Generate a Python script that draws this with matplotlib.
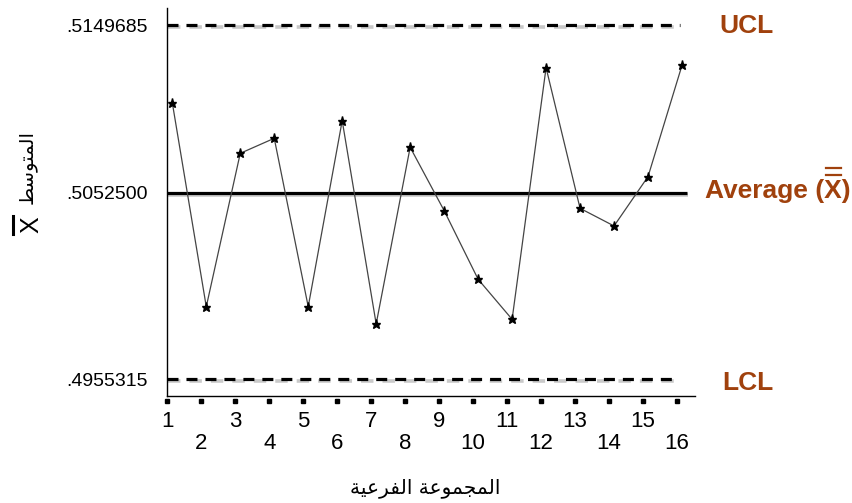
import numpy as np
import matplotlib
matplotlib.use("Agg")
import matplotlib.pyplot as plt
from matplotlib import transforms
from matplotlib.lines import Line2D
import matplotlib.patheffects as pe

# ---------------- data ----------------
subgroups = list(range(1, 17))
xbar = [0.51048, 0.49932, 0.50755, 0.50842, 0.49932, 0.50944, 0.49842, 0.50790,
        0.50433, 0.50075, 0.49866, 0.51251, 0.50445, 0.50353, 0.50620, 0.51265]
UCL = 0.5149685
CL = 0.5052500
LCL = 0.4955315
limit_values = [LCL, CL, UCL]
limit_labels = [f"{v:.7f}".lstrip("0") for v in limit_values]
xlabel_ar = "المجموعة الفرعية"
ylabel_ar = "المتوسط"

# ---------------- minimal Arabic shaping (matplotlib has no CTL) ----------------
FORMS = {
    'ا': ('\uFE8D', '\uFE8E', None, None),
    'ل': ('\uFEDD', '\uFEDE', '\uFEDF', '\uFEE0'),
    'م': ('\uFEE1', '\uFEE2', '\uFEE3', '\uFEE4'),
    'ج': ('\uFE9D', '\uFE9E', '\uFE9F', '\uFEA0'),
    'و': ('\uFEED', '\uFEEE', None, None),
    'ع': ('\uFEC9', '\uFECA', '\uFECB', '\uFECC'),
    'ة': ('\uFE93', '\uFE94', None, None),
    'ف': ('\uFED1', '\uFED2', '\uFED3', '\uFED4'),
    'ر': ('\uFEAD', '\uFEAE', None, None),
    'ي': ('\uFEF1', '\uFEF2', '\uFEF3', '\uFEF4'),
    'ت': ('\uFE95', '\uFE96', '\uFE97', '\uFE98'),
    'س': ('\uFEB1', '\uFEB2', '\uFEB3', '\uFEB4'),
    'ط': ('\uFEC1', '\uFEC2', '\uFEC3', '\uFEC4'),
}


def shape(s):
    out = []
    for i, c in enumerate(s):
        if c not in FORMS:
            out.append(c)
            continue
        f = FORMS[c]
        prev = s[i - 1] if i > 0 else None
        nxt = s[i + 1] if i + 1 < len(s) else None
        jp = prev in FORMS and FORMS[prev][2] is not None
        jn = nxt in FORMS and f[2] is not None
        if jp and jn:
            g = f[3]
        elif jp:
            g = f[1]
        elif jn:
            g = f[2]
        else:
            g = f[0]
        out.append(g)
    return ''.join(reversed(out))


# ---------------- figure ----------------
W, H = 853, 503
fig = plt.figure(figsize=(W / 100, H / 100), dpi=100)


def fx(px):
    return px / W


def fy(py):
    return 1 - py / H


ax_l, ax_r, ax_b, ax_t = 167.3, 695, 396, 8
ax = fig.add_axes([fx(ax_l), fy(ax_b), fx(ax_r - ax_l), (ax_b - ax_t) / H])

# piecewise-linear y scale (reference draws the two halves with different spacing)
K_UP = 167.7 / (UCL - CL)
K_DN = 186.3 / (CL - LCL)


def fwd(y):
    y = np.asarray(y, dtype=float)
    return np.where(y >= CL, (y - CL) * K_UP, (y - CL) * K_DN)


def inv(p):
    p = np.asarray(p, dtype=float)
    return np.where(p >= 0, CL + p / K_UP, CL + p / K_DN)


ax.set_yscale('function', functions=(fwd, inv))
ax.set_ylim(inv(-(ax_b - 193.0)), inv(193.0 - ax_t))
px_per_x = 34.0
ax.set_xlim(1 - (172 - ax_l) / px_per_x, 1 + (ax_r - 172) / px_per_x)

brown = '#A0410D'
ytrans = ax.get_yaxis_transform()
shadow_trans = transforms.offset_copy(ytrans, fig=fig, x=0.8, y=-2.0, units='dots')

# control lines (with soft drop shadow like the reference)
ends = {UCL: (680 - ax_l) / (ax_r - ax_l), LCL: (678 - ax_l) / (ax_r - ax_l),
        CL: (687 - ax_l) / (ax_r - ax_l)}
for val in (UCL, LCL, CL):
    dash_kw = {} if val == CL else dict(dashes=(3.44, 2.5))
    ax.plot([0, ends[val]], [val, val], transform=shadow_trans, color='#888888',
            alpha=0.45, lw=2.6, zorder=1.9, solid_capstyle='butt',
            dash_capstyle='butt', **dash_kw)
    ax.plot([0, ends[val]], [val, val], transform=ytrans, color='black', lw=2.3,
            zorder=2, solid_capstyle='butt', dash_capstyle='butt', **dash_kw)

# data
ax.plot(subgroups, xbar, color='#444444', lw=0.9, zorder=3)
ax.plot(subgroups, xbar, ls='none', marker='*', ms=6.5, color='black', zorder=4)

# spines
for s in ['top', 'right']:
    ax.spines[s].set_visible(False)
for s in ['left', 'bottom']:
    ax.spines[s].set_linewidth(1.0)

# y ticks
ax.set_yticks(limit_values)
ax.set_yticklabels(limit_labels, fontsize=14, family='Liberation Sans')
ax.yaxis.set_minor_locator(matplotlib.ticker.NullLocator())
ax.tick_params(axis='y', length=0, pad=14)

# x ticks (odd top row, even lower row); tick squares slightly left of points
tick_shift = -5.0 / px_per_x
odd = [g for g in subgroups if g % 2 == 1]
even = [g for g in subgroups if g % 2 == 0]
ax.set_xticks([g + tick_shift for g in odd])
ax.set_xticklabels([str(g) for g in odd], fontsize=16, family='Liberation Sans')
ax.set_xticks([g + tick_shift for g in even], minor=True)
ax.set_xticklabels([str(g) for g in even], minor=True, fontsize=16, family='Liberation Sans')
ax.tick_params(axis='x', which='major', length=0, pad=11)
ax.tick_params(axis='x', which='minor', length=0, pad=26.5)
blend = transforms.blended_transform_factory(ax.transData, ax.transAxes)
ax.plot([g + tick_shift for g in subgroups], [-(400.7 - ax_b) / (ax_b - ax_t)] * len(subgroups),
        ls='none', marker='s', ms=3.0, color='black', transform=blend, clip_on=False)

# right-hand labels
FS_LAB = 19
lab_kw = dict(xycoords=('figure fraction', 'data'), textcoords='offset pixels',
              color=brown, fontsize=FS_LAB, fontweight='bold', family='Liberation Sans',
              va='baseline', ha='left', annotation_clip=False)
ax.annotate('UCL', xy=(fx(719), UCL), xytext=(0, -7.7), **lab_kw)
ax.annotate('LCL', xy=(fx(722), LCL), xytext=(0, -10.7), **lab_kw)
t_avg = ax.annotate('Average (X)', xy=(fx(705), CL), xytext=(0, -5.0), **lab_kw)

# axis titles (Arabic)
fig.text(fx(425), fy(488), shape(xlabel_ar), fontsize=14.5, family='DejaVu Sans',
         ha='center', va='center')
fig.text(fx(27), fy(167), shape(ylabel_ar), fontsize=14, family='DejaVu Sans',
         ha='center', va='center', rotation=90)
fig.text(fx(31), fy(225), 'X', fontsize=18, family='Liberation Sans',
         ha='center', va='center', rotation=90)
fig.add_artist(Line2D([fx(13), fx(13)], [fy(216), fy(234)], transform=fig.transFigure,
                      color='black', lw=2.2))

# double bar over the X in "Average (X)"
fig.canvas.draw()
r = fig.canvas.get_renderer()
bb = t_avg.get_window_extent(r)
tmp = fig.text(0, 0, 'Average (', fontsize=FS_LAB, fontweight='bold', family='Liberation Sans')
w_pre = tmp.get_window_extent(r).width
tmp.remove()
tmp = fig.text(0, 0, 'X', fontsize=FS_LAB, fontweight='bold', family='Liberation Sans')
w_x = tmp.get_window_extent(r).width
tmp.remove()
x0 = bb.x0 + w_pre + 2
x1 = bb.x0 + w_pre + w_x - 1
base = ax.transData.transform((1, CL))[1] - 5.0
for dy in (23, 30):
    fig.add_artist(Line2D([x0 / W, x1 / W], [(base + dy) / H] * 2, transform=fig.transFigure,
                          color=brown, lw=1.6))

fig.savefig('out.png', dpi=100)
